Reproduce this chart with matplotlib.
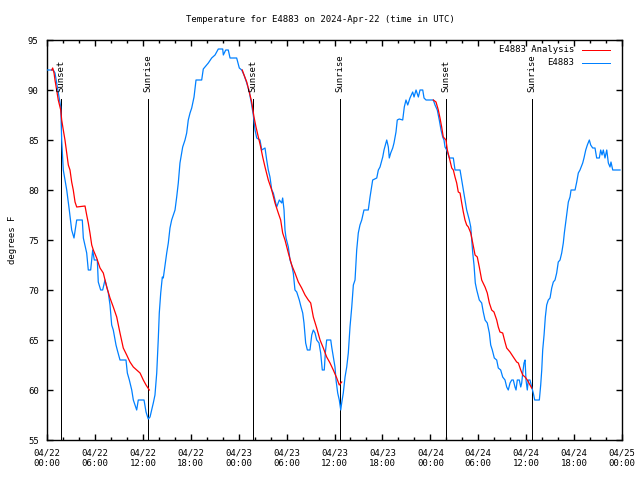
import matplotlib
matplotlib.use("Agg")
import matplotlib.pyplot as plt
from matplotlib.ticker import MultipleLocator, FixedLocator

plt.rcParams['font.family'] = ['DejaVu Sans Mono']
plt.rcParams['font.size'] = 6.5

# ---- data (hours since 2024-04-22 00:00 UTC, degrees F) ----
obs_h = [0.00, 0.79, 1.00, 1.41, 1.72, 1.84, 2.04, 2.47, 2.79, 3.09, 3.38, 3.72, 4.42, 4.55, 4.97,
         5.17, 5.47, 5.72, 5.92, 6.30, 6.42, 6.72, 6.97, 7.26, 7.68, 7.89, 8.10, 8.30, 8.64, 8.80,
         9.14, 9.89, 10.06, 10.31, 10.61, 10.81, 11.23, 11.43, 12.15, 12.40, 12.68, 12.90, 13.31,
         13.52, 13.74, 13.94, 14.06, 14.24, 14.44, 14.56, 14.78, 14.99, 15.19, 15.40, 15.61, 16.03,
         16.24, 16.44, 16.65, 16.99, 17.28, 17.49, 17.69, 17.91, 18.12, 18.41, 18.66, 19.37, 19.57,
         20.20, 20.62, 21.04, 21.45, 22.00, 22.08, 22.38, 22.70, 22.92, 23.75, 24.08, 24.38, 24.67,
         25.01, 25.33, 25.63, 25.83, 26.05, 26.26, 26.67, 26.89, 27.30, 27.51, 27.71, 27.92, 28.14,
         28.34, 28.55, 28.76, 29.09, 29.39, 29.51, 29.68, 29.80, 29.93, 30.22, 30.43, 30.64, 30.84,
         31.05, 31.27, 31.59, 31.81, 32.02, 32.18, 32.39, 32.60, 32.93, 33.15, 33.35, 33.56, 33.77,
         34.06, 34.27, 34.47, 34.72, 34.85, 35.02, 35.53, 35.65, 35.85, 36.06, 36.19, 36.40, 36.60,
         36.78, 36.90, 37.10, 37.32, 37.53, 37.73, 37.94, 38.16, 38.36, 38.57, 38.78, 38.98, 39.19,
         39.41, 39.69, 40.23, 40.45, 40.78, 41.29, 41.49, 41.70, 42.04, 42.20, 42.54, 42.74, 42.86,
         43.04, 43.29, 43.45, 43.70, 43.86, 44.11, 44.54, 44.74, 44.95, 45.17, 45.45, 45.79, 45.96,
         46.21, 46.50, 46.71, 47.05, 47.21, 47.46, 48.37, 48.59, 48.87, 49.12, 49.34, 49.55, 49.71,
         49.84, 50.05, 50.38, 50.88, 51.09, 51.72, 51.93, 52.13, 52.34, 52.55, 52.88, 53.06, 53.31,
         53.47, 53.63, 53.81, 54.13, 54.43, 54.63, 54.85, 55.13, 55.39, 55.56, 55.76, 56.01, 56.31,
         56.51, 56.81, 57.06, 57.35, 57.56, 57.76, 57.98, 58.19, 58.39, 58.60, 58.73, 58.89, 59.14,
         59.32, 59.44, 59.57, 59.73, 59.86, 59.98, 60.14, 60.27, 60.48, 60.69, 60.89, 61.07, 61.65,
         61.82, 61.95, 62.07, 62.24, 62.40, 62.57, 62.77, 62.99, 63.20, 63.40, 63.61, 63.82, 64.02,
         64.24, 64.45, 64.65, 64.78, 64.99, 65.28, 65.49, 65.62, 66.12, 66.33, 66.53, 66.74, 67.08,
         67.24, 67.46, 67.66, 67.91, 68.08, 68.33, 68.62, 68.83, 69.16, 69.33, 69.50, 69.66, 69.87,
         70.09, 70.29, 70.50, 70.62, 70.84, 71.75]
obs_t = [92.0, 92.0, 91.7, 89.8, 88.3, 85.0, 82.0, 80.0, 78.0, 76.0, 75.2, 77.0, 77.0, 75.2, 73.7,
         72.0, 72.0, 74.0, 73.0, 73.0, 70.8, 70.0, 70.0, 71.0, 69.7, 68.5, 66.5, 66.0, 64.5, 64.0,
         63.0, 63.0, 61.7, 61.0, 60.0, 59.0, 58.0, 59.0, 59.0, 57.8, 57.1, 57.3, 58.7,
         59.5, 61.7, 65.2, 67.7, 69.7, 71.3, 71.2, 72.5, 73.7, 74.7, 76.2, 77.0, 78.0,
         79.3, 80.7, 82.7, 84.3, 85.0, 85.7, 87.0, 87.7, 88.2, 89.3, 91.0, 91.0, 92.1,
         92.7, 93.2, 93.5, 94.1, 94.1, 93.5, 94.0, 94.0, 93.2, 93.2, 92.2, 92.0, 91.5,
         90.7, 89.8, 88.5, 87.5, 86.0, 85.2, 85.0, 84.0, 84.2, 83.0, 82.0, 81.3, 80.0,
         79.7, 79.0, 78.3, 79.0, 78.7, 79.2, 78.0, 76.0, 75.2, 74.3, 73.0, 72.5, 71.7,
         70.0, 69.8, 69.0, 68.3, 67.7, 66.7, 64.7, 64.0, 64.0, 65.5, 66.0, 65.7, 65.0,
         64.7, 63.7, 62.0, 62.0, 63.7, 65.0, 65.0, 64.3, 63.3, 62.3, 61.0, 59.7, 59.0,
         58.0, 58.7, 59.7, 61.3, 62.3, 63.7, 66.3, 68.3, 70.5, 71.0, 74.0, 75.7, 76.5,
         77.0, 78.0, 78.0, 79.3, 81.0, 81.2, 82.0, 82.3, 83.3, 84.0, 85.0, 84.3, 83.2,
         83.7, 84.2, 84.7, 85.8, 87.0, 87.1, 87.0, 88.3, 89.0, 88.5, 89.2, 89.8, 89.3,
         90.0, 89.3, 90.0, 90.0, 89.2, 89.0, 89.0, 88.5, 88.0, 87.0, 86.0, 85.3, 85.0,
         84.3, 84.0, 83.2, 83.2, 82.0, 82.0, 81.0, 80.0, 79.0, 78.0, 77.0, 76.3, 73.7,
         72.5, 70.7, 70.0, 69.0, 68.7, 67.8, 67.0, 66.7, 65.7, 64.5, 64.0, 63.2, 63.0,
         62.2, 62.0, 61.3, 61.0, 60.3, 60.0, 60.7, 61.0, 61.0, 60.3, 60.0, 61.0, 61.0,
         60.3, 60.7, 61.7, 62.7, 63.0, 61.0, 60.0, 61.0, 61.0, 60.3, 59.7, 59.0, 59.0,
         60.5, 62.0, 64.0, 65.5, 67.3, 68.5, 69.0, 69.2, 70.2, 70.8, 71.0, 71.7, 72.8,
         73.0, 73.7, 74.7, 75.7, 77.0, 78.8, 79.3, 80.0, 80.0, 80.8, 81.7, 82.0, 82.7,
         83.2, 84.0, 84.5, 85.0, 84.5, 84.2, 84.2, 83.2, 83.2, 84.0, 83.5, 84.0, 83.2,
         84.0, 82.7, 82.3, 82.8, 82.0, 82.0]

ana1_h = [0.60, 0.71, 0.88, 1.00, 1.21, 1.41, 1.72, 1.84, 2.04, 2.25, 2.47, 2.67, 2.88, 3.09, 3.29,
          3.51, 3.72, 4.76, 4.97, 5.17, 5.38, 5.60, 5.80, 6.22, 6.64, 7.05, 7.48, 7.89, 8.30, 8.73,
          9.14, 9.55, 9.98, 10.39, 10.81, 11.23, 11.65, 12.06, 12.40, 12.81]
ana1_t = [92.0, 92.2, 91.7, 91.0, 90.0, 89.0, 88.0, 87.0, 86.0, 85.0, 83.7, 82.5, 82.0, 80.8, 80.0,
          78.8, 78.3, 78.4, 77.5, 76.7, 75.7, 74.5, 74.0, 73.2, 72.2, 71.7, 70.3, 69.2, 68.3, 67.3,
          65.7, 64.2, 63.5, 62.8, 62.3, 62.0, 61.7, 61.0, 60.5, 60.0]
ana2_h = [24.45, 24.67, 25.01, 25.33, 25.63, 25.92, 26.17, 26.46, 26.73, 27.01, 27.30, 27.71, 28.14,
          28.55, 28.96, 29.26, 29.51, 29.80, 30.22, 30.64, 31.05, 31.47, 31.89, 32.31, 32.72, 33.02,
          33.35, 33.77, 34.19, 34.60, 35.02, 35.44, 35.85, 36.28, 36.60, 36.90]
ana2_t = [92.0, 91.5, 90.8, 89.8, 88.8, 87.3, 86.3, 85.3, 84.4, 83.3, 82.3, 81.0, 80.0,
          78.7, 77.7, 77.0, 75.7, 75.0, 73.7, 72.5, 71.7, 70.8, 70.2, 69.5, 69.0, 68.7,
          67.3, 66.2, 65.0, 64.2, 63.3, 62.7, 62.0, 61.2, 60.5, 60.8]
ana3_h = [48.37, 48.71, 49.00, 49.21, 49.42, 49.62, 49.96, 50.13, 50.38, 50.68, 50.88, 51.09, 51.30,
          51.50, 51.72, 51.93, 52.13, 52.34, 52.55, 52.76, 53.06, 53.31, 53.60, 53.88, 54.13, 54.43,
          54.85, 55.13, 55.39, 55.68, 55.97, 56.31, 56.51, 56.72, 57.06, 57.35, 57.56, 57.98, 58.39,
          58.81, 59.02, 59.32, 59.57, 59.86, 60.14, 60.48, 60.69]
ana3_t = [89.0, 88.8, 88.0, 87.2, 86.3, 85.3, 85.0, 84.0, 83.2, 82.2, 82.0, 81.3, 80.7,
          79.8, 79.7, 78.7, 77.8, 77.0, 76.5, 76.3, 75.7, 74.7, 73.5, 73.3, 72.3, 71.0,
          70.3, 69.7, 68.7, 68.0, 67.8, 67.0, 66.3, 65.8, 65.7, 64.8, 64.2, 63.8, 63.3,
          62.8, 62.7, 62.0, 61.5, 61.3, 61.0, 60.5, 60.2]

sun_h = [1.79, 12.68, 25.83, 36.69, 49.93, 60.77]
sun_labels = ["Sunset", "Sunrise", "Sunset", "Sunrise", "Sunset", "Sunrise"]

tick_h = list(range(0, 73, 6))
tick_labels = ["04/22\n00:00", "04/22\n06:00", "04/22\n12:00", "04/22\n18:00",
               "04/23\n00:00", "04/23\n06:00", "04/23\n12:00", "04/23\n18:00",
               "04/24\n00:00", "04/24\n06:00", "04/24\n12:00", "04/24\n18:00",
               "04/25\n00:00"]

RED = '#ff0000'
BLUE = '#0080ff'
FS = 6.5
LW = 0.72

fig = plt.figure(figsize=(6.4, 4.8), dpi=100)
ax = fig.add_axes([47/640, 40/480, 575/640, 400/480])

ax.plot(obs_h, obs_t, color=BLUE, lw=0.9, zorder=3)
for hh, tt in [(ana1_h, ana1_t), (ana2_h, ana2_t), (ana3_h, ana3_t)]:
    ax.plot(hh, tt, color=RED, lw=0.9, zorder=4)

for h, lab in zip(sun_h, sun_labels):
    ax.plot([h, h], [55, 89.1], color='black', lw=LW, zorder=2, antialiased=False)
    ax.text(h, 89.8, lab, rotation=90, ha='center', va='bottom', fontsize=FS, zorder=5)

ax.set_xlim(0, 72)
ax.set_ylim(55, 95)
ax.xaxis.set_major_locator(FixedLocator(tick_h))
ax.set_xticklabels(tick_labels)
ax.xaxis.set_minor_locator(MultipleLocator(2))
ax.yaxis.set_major_locator(MultipleLocator(5))
ax.tick_params(which='both', direction='in', top=True, right=True, width=1.0, colors='black')
ax.tick_params(which='major', length=4.5, labelsize=FS)
ax.tick_params(which='minor', length=2.5)
ax.tick_params(axis='x', pad=6)
ax.tick_params(axis='y', pad=6)
ax.set_ylabel("degrees F", fontsize=FS, labelpad=8)
for s in ax.spines.values():
    s.set_linewidth(1.0)

fig.text(0.5, 1 - 19/480, "Temperature for E4883 on 2024-Apr-22 (time in UTC)",
         ha='center', va='center', fontsize=FS)

# legend (gnuplot style: right-aligned text, sample to the right)
ax.text(0.9165, 0.975, "E4883 Analysis", transform=ax.transAxes, ha='right', va='center', fontsize=FS)
ax.text(0.9165, 0.9425, "E4883", transform=ax.transAxes, ha='right', va='center', fontsize=FS)
ax.plot([0.930, 0.979], [0.975, 0.975], color=RED, lw=LW, transform=ax.transAxes, antialiased=False)
ax.plot([0.930, 0.979], [0.9425, 0.9425], color=BLUE, lw=LW, transform=ax.transAxes, antialiased=False)

fig.savefig("out.png", dpi=100)
